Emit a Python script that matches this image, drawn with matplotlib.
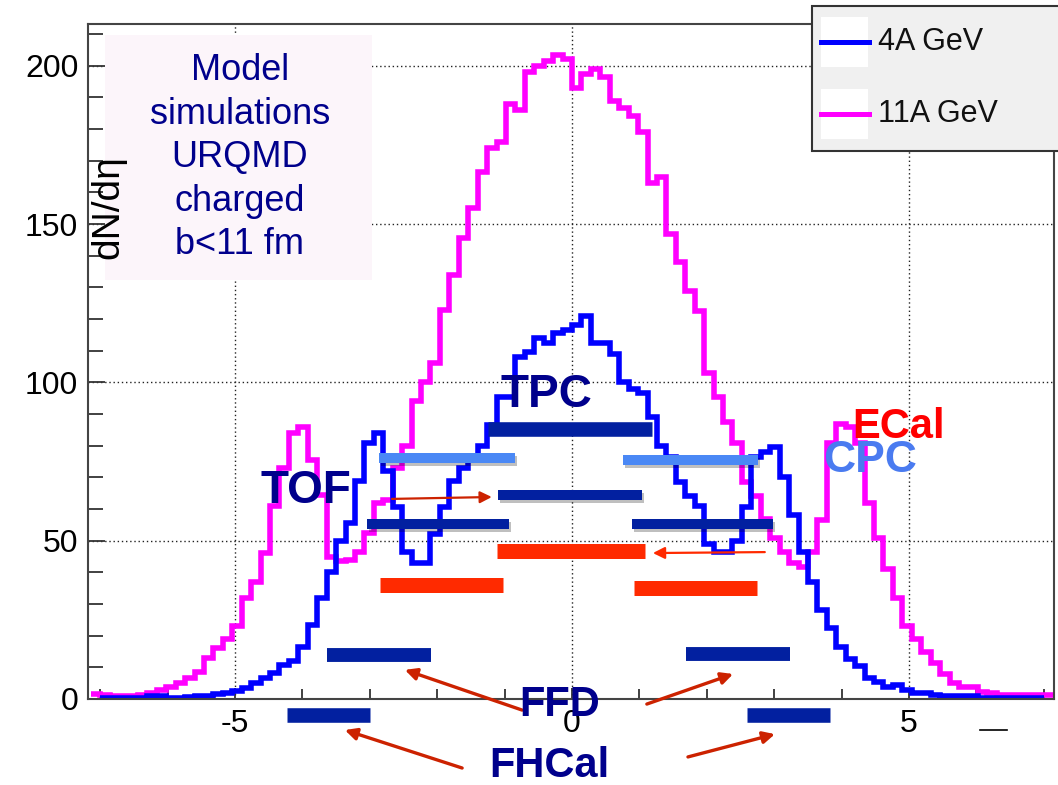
import matplotlib
matplotlib.use('Agg')
import matplotlib.pyplot as plt
import matplotlib.patheffects as pe
from matplotlib.patches import Rectangle
from matplotlib.lines import Line2D
import numpy as np

plt.rcParams['font.family'] = ['Liberation Sans', 'DejaVu Sans']
plt.rcParams['axes.unicode_minus'] = False

# dN/deta histograms, 0.14 wide bins
series_names = ['4A GeV', '11A GeV']
edges_4A = np.linspace(-7.0, 7.0, 101)
edges_11A = np.linspace(-7.14, 7.14, 103)

dndeta_4A = [0.3, 0.3, 0.3, 0.3, 0.3, 0.8, 0.8, 0.3, 0.3, 0.5,
             1.0, 1.0, 1.5, 2.0, 2.5, 3.6, 5.0, 6.6, 8.2, 10.7,
             12.0, 16.5, 23.4, 32, 40, 50, 55.6, 69, 81, 84,
             72, 60.6, 46.4, 43, 43, 52, 60.6, 69, 73, 76,
             80, 86.5, 95.5, 95.5, 108, 109.6, 114, 112.5, 115.6, 116.6,
             118, 121, 112.5, 112.5, 109, 100, 98, 96.6, 89, 80,
             76.5, 68.6, 64, 61, 49, 46.4, 46.4, 50, 60.6, 76.5,
             78, 79.6, 70, 58, 46.4, 37, 28, 22.4, 16.5, 12.5,
             10.3, 6.6, 5.4, 3.9, 4.4, 2.8, 2.0, 2.0, 1.3, 0.8,
             0.8, 0.8, 0.8, 0.3, 0.3, 0.3, 0.3, 0.3, 0.3, 0.3]

dndeta_11A = [1.5,
              1.2, 1.0, 1.0, 1.0, 1.2, 1.8, 2.8, 3.9, 5.0, 6.5,
              8.5, 13, 16, 19, 23, 32, 37, 46, 61, 73,
              84, 86, 75.5, 64.5, 45, 43.5, 44, 46.5, 52.4, 62,
              63, 73, 80, 94, 100, 106, 123, 134, 145.6, 155,
              166.5, 174, 176, 188, 186, 198, 200, 201.5, 203.5, 202,
              193, 197.5, 199, 196.5, 189, 186.7, 184, 179, 163, 165,
              147, 138, 129, 122.6, 103, 95.5, 87.5, 81, 68.5, 64,
              57, 51, 46.5, 43, 41.7, 46.5, 56.5, 81, 87, 86,
              81, 62, 51, 41, 32, 23, 19, 15, 11.5, 8,
              5, 3.9, 3.7, 2.3, 1.8, 1.3, 1.3, 1.3, 1.3, 1.3,
              1.3]

# detector acceptance bars: eta from, eta to, height on the plot
tpc_bars = [(-1.25, 1.19, 85.2)]
cpc_bars = [(-2.86, -0.85, 76.1), (0.76, 2.76, 75.4)]
tof_bars = [(-1.10, 1.04, 64.5), (-3.04, -0.93, 55.3), (0.89, 2.98, 55.3)]
ecal_bars = [(-1.11, 1.08, 46.6), (-2.85, -1.02, 36.0), (0.92, 2.74, 35.0)]
ffd_bars = [(-3.64, -2.09, 14.0), (1.69, 3.23, 14.2)]
fhcal_bars = [(-4.23, -2.99, -4.9), (2.60, 3.83, -4.9)]

model_lines = ['Model', 'simulations', 'URQMD', 'charged', 'b<11 fm']

navy = '#0220a0'
red = '#ff2a00'
lightblue = '#4a88f5'
textnavy = '#00008c'
arrowred = '#cc2200'

fig = plt.figure(figsize=(10.58, 7.85), dpi=100)
ax = fig.add_axes([88 / 1058, 1 - 699 / 785, 966 / 1058, 675 / 785])

ax.stairs(dndeta_11A, edges_11A, baseline=None, color='#ff00ff', lw=4, zorder=2)
ax.stairs(dndeta_4A, edges_4A, baseline=None, color='#0000ff', lw=4, zorder=2.1)

ax.set_xlim(-7.18, 7.15)
ax.set_ylim(0, 213.2)

# text box with model info
ax.add_patch(Rectangle((-6.93, 132.4), 3.96, 77.4, facecolor='#fcf5fa',
                       edgecolor='none', zorder=1))
for i, line in enumerate(model_lines):
    ax.text(-4.93, 198.4 - i * 13.75, line, ha='center', va='center',
            fontsize=26, color=textnavy, zorder=3)

ax.text(-6.88, 155.4, 'dN/d\u03b7', rotation=90, ha='center', va='center',
        fontsize=28, color='black', zorder=4)

# bars
shadow = [pe.SimpleLineShadow(offset=(1.5, -2), alpha=0.25), pe.Normal()]


def draw_bars(bars, color, width, effects=None, clip=True):
    for x0, x1, y in bars:
        ax.plot([x0, x1], [y, y], color=color, lw=width, solid_capstyle='butt',
                zorder=5, clip_on=clip, path_effects=effects)


draw_bars(tpc_bars, navy, 10.5)
draw_bars(cpc_bars, lightblue, 7.2, shadow)
draw_bars(tof_bars, navy, 7.2, shadow)
draw_bars(ecal_bars, red, 10.8)
draw_bars(ffd_bars, navy, 10)
draw_bars(fhcal_bars, navy, 10.5, clip=False)

# arrows
arrows = [((-2.67, 63.2), (-1.19, 63.8), arrowred, 1.6),
          ((2.86, 46.4), (1.20, 46.1), red, 1.6),
          ((-0.74, -3.5), (-2.48, 9.2), arrowred, 2.4),
          ((1.11, -1.6), (2.39, 7.9), arrowred, 2.4),
          ((-1.63, -21.8), (-3.37, -9.8), arrowred, 2.4),
          ((1.72, -18.3), (3.01, -11.1), arrowred, 2.4)]
for tail, tip, c, w in arrows:
    ax.annotate('', xy=tip, xytext=tail, annotation_clip=False,
                arrowprops=dict(arrowstyle='-|>,head_length=0.7,head_width=0.35',
                                color=c, lw=w, shrinkA=0, shrinkB=0), zorder=6)

# detector labels
ax.text(-0.386, 96.0, 'TPC', ha='center', va='center', fontsize=33,
        fontweight='bold', color=textnavy, zorder=7)
ax.text(-3.95, 65.7, 'TOF', ha='center', va='center', fontsize=33,
        fontweight='bold', color=textnavy, zorder=7)
ax.text(4.85, 85.9, 'ECal', ha='center', va='center', fontsize=30,
        fontweight='bold', color='#ff0000', zorder=7)
ax.text(4.42, 75.2, 'CPC', ha='center', va='center', fontsize=32,
        fontweight='bold', color='#4a7bf0', zorder=7)
ax.text(-0.18, -1.9, 'FFD', ha='center', va='center', fontsize=30,
        fontweight='bold', color=textnavy, zorder=7)
ax.text(-0.34, -21.2, 'FHCal', ha='center', va='center', fontsize=30,
        fontweight='bold', color=textnavy, zorder=7)

# stray dash below the axis
ax.plot([6.05, 6.45], [-9.8, -9.8], color='black', lw=1.2, clip_on=False)

# axes styling
ax.set_xticks([-5, 0, 5])
ax.set_xticks(np.arange(-7, 8, 1), minor=True)
ax.set_yticks(np.arange(0, 201, 50))
ax.set_yticks(np.arange(0, 211, 10), minor=True)
ax.tick_params(axis='both', which='both', direction='in', width=1.3,
               color='#333333', labelsize=23, top=False, right=False)
ax.tick_params(axis='x', which='major', length=8, pad=7)
ax.tick_params(axis='x', which='minor', length=7.5)
ax.tick_params(axis='y', which='major', length=12.5, pad=7)
ax.tick_params(axis='y', which='minor', length=11)
ax.set_axisbelow(True)
ax.grid(True, which='major', color='#222222', linestyle=(0, (1, 2)), lw=1)
for s in ax.spines.values():
    s.set_color('#444444')
    s.set_linewidth(1.5)

# legend box drawn in figure pixels
def fx(px):
    return px / 1058


def fy(py):
    return 1 - py / 785


fig.patches.append(Rectangle((fx(812), fy(151)), fx(260), 145 / 785,
                             transform=fig.transFigure, facecolor='#f0f0f0',
                             edgecolor='#333333', lw=1.5, zorder=10))
leg_colors = ['#0000ff', '#ff00ff']
for i, (name, c) in enumerate(zip(series_names, leg_colors)):
    yc = 42 + 72 * i
    fig.patches.append(Rectangle((fx(821), fy(yc + 25)), fx(47), 50 / 785,
                                 transform=fig.transFigure, facecolor='white',
                                 edgecolor='none', zorder=11))
    fig.lines.append(Line2D([fx(821), fx(869)], [fy(yc), fy(yc)], color=c,
                            lw=3.6, transform=fig.transFigure, zorder=12))
    fig.text(fx(878), fy(yc), name, ha='left', va='center', fontsize=22,
             color='#111111', zorder=12)

fig.savefig('out.png', dpi=100)
